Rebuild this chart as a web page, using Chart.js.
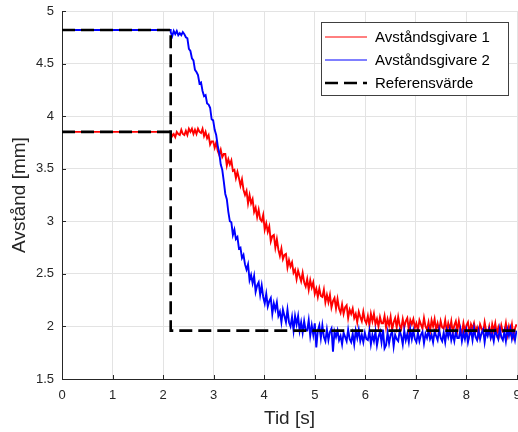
<!DOCTYPE html>
<html lang="sv">
<head>
<meta charset="utf-8">
<title>Avstånd</title>
<script src="https://cdn.jsdelivr.net/npm/chart.js@4.4.1/dist/chart.umd.min.js"></script>
<style>
  html, body { margin: 0; padding: 0; background: #fff; }
  #wrap { width: 518px; height: 432px; }
</style>
</head>
<body>
<div id="wrap"><canvas id="avstandChart" width="518" height="432"></canvas></div>
<script>
// Tid före steget och nivåerna där (mm)
const foreTid = [0, 2.15];
const givare1Fore = [3.85, 3.85];
const givare2Fore = [4.82, 4.82];

// Mätningar efter steget: starttid och samplingsintervall (s)
const matStart = 2.15;
const matSteg = 0.03;

// Avståndsgivare 1 (mm), en rad = 0.3 s
const givare1 = [
  3.85, 3.81, 3.83, 3.80, 3.85, 3.83, 3.82, 3.87, 3.83, 3.82,
  3.86, 3.82, 3.88, 3.85, 3.88, 3.83, 3.87, 3.83, 3.88, 3.85,
  3.84, 3.88, 3.81, 3.85, 3.79, 3.82, 3.73, 3.76, 3.76, 3.70,
  3.75, 3.67, 3.63, 3.68, 3.61, 3.64, 3.64, 3.53, 3.59, 3.54,
  3.58, 3.48, 3.49, 3.41, 3.47, 3.41, 3.34, 3.40, 3.30, 3.25,
  3.29, 3.17, 3.25, 3.17, 3.21, 3.09, 3.13, 3.04, 3.11, 3.02,
  3.00, 3.06, 2.92, 2.98, 2.90, 2.95, 2.81, 2.86, 2.87, 2.75,
  2.83, 2.73, 2.67, 2.74, 2.64, 2.68, 2.69, 2.56, 2.63, 2.57,
  2.61, 2.51, 2.54, 2.45, 2.53, 2.48, 2.43, 2.51, 2.42, 2.38,
  2.45, 2.35, 2.44, 2.37, 2.42, 2.31, 2.36, 2.28, 2.36, 2.29,
  2.28, 2.35, 2.23, 2.30, 2.23, 2.30, 2.18, 2.24, 2.27, 2.17,
  2.26, 2.17, 2.13, 2.21, 2.12, 2.18, 2.20, 2.08, 2.16, 2.12,
  2.17, 2.08, 2.12, 2.04, 2.14, 2.09, 2.05, 2.14, 2.06, 2.03,
  2.10, 2.01, 2.12, 2.05, 2.12, 2.02, 2.07, 2.00, 2.09, 2.03,
  2.03, 2.10, 1.99, 2.07, 2.01, 2.09, 1.97, 2.04, 2.08, 1.99,
  2.09, 2.01, 1.98, 2.07, 1.99, 2.05, 2.08, 1.97, 2.06, 2.02,
  2.07, 1.99, 2.03, 1.96, 2.06, 2.02, 1.98, 2.08, 2.00, 1.97,
  2.04, 1.95, 2.06, 2.00, 2.07, 1.97, 2.03, 1.96, 2.05, 1.99,
  1.98, 2.06, 1.95, 2.03, 1.97, 2.05, 1.94, 2.01, 2.05, 1.96,
  2.05, 1.97, 1.94, 2.03, 1.95, 2.01, 2.04, 1.93, 2.02, 1.98,
  2.03, 1.95, 1.99, 1.92, 2.02, 1.98, 1.94, 2.04, 1.96, 1.93,
  2.00, 1.91, 2.02, 1.96, 2.03, 1.93, 1.99, 1.92, 2.01, 1.95,
  1.95, 2.03, 1.92, 2.00, 1.94, 2.02, 1.91, 1.98, 2.02
];

// Avståndsgivare 2 (mm)
const givare2 = [
  4.80, 4.76, 4.81, 4.78, 4.81, 4.77, 4.79, 4.77, 4.80, 4.78,
  4.75, 4.74, 4.64, 4.62, 4.55, 4.53, 4.44, 4.42, 4.39, 4.31,
  4.32, 4.24, 4.19, 4.20, 4.12, 4.11, 4.08, 3.97, 3.96, 3.87,
  3.82, 3.72, 3.65, 3.54, 3.49, 3.38, 3.26, 3.21, 3.09, 3.00,
  2.99, 2.87, 2.92, 2.83, 2.85, 2.74, 2.75, 2.65, 2.68, 2.59,
  2.54, 2.59, 2.44, 2.49, 2.41, 2.48, 2.33, 2.39, 2.42, 2.30,
  2.39, 2.28, 2.22, 2.31, 2.19, 2.24, 2.27, 2.12, 2.22, 2.16,
  2.23, 2.10, 2.14, 2.04, 2.16, 2.10, 2.04, 2.16, 2.04, 2.00,
  2.09, 1.96, 2.10, 2.02, 2.10, 1.96, 2.04, 1.94, 2.05, 1.96,
  1.96, 2.06, 1.91, 2.01, 1.92, 2.03, 1.80, 1.96, 2.01, 1.89,
  2.01, 1.90, 1.86, 1.97, 1.87, 1.95, 1.98, 1.76, 1.95, 1.90,
  1.96, 1.87, 1.91, 1.83, 1.94, 1.90, 1.86, 1.97, 1.88, 1.85,
  1.93, 1.83, 1.96, 1.89, 1.97, 1.86, 1.92, 1.85, 1.94, 1.88,
  1.87, 1.96, 1.83, 1.92, 1.86, 1.95, 1.82, 1.90, 1.95, 1.85,
  1.97, 1.79, 1.82, 1.94, 1.84, 1.92, 1.95, 1.81, 1.92, 1.88,
  1.86, 1.96, 1.91, 1.83, 1.96, 1.87, 1.93, 1.85, 1.97, 1.88,
  1.96, 1.88, 1.85, 1.94, 1.86, 1.92, 1.95, 1.84, 1.93, 1.89,
  1.96, 1.88, 1.92, 1.85, 1.95, 1.91, 1.87, 1.97, 1.89, 1.86,
  1.94, 1.85, 1.96, 1.90, 1.97, 1.87, 1.93, 1.86, 1.95, 1.89,
  1.89, 1.97, 1.86, 1.94, 1.88, 1.96, 1.85, 1.92, 1.96, 1.87,
  1.98, 1.90, 1.87, 1.96, 1.88, 1.94, 1.97, 1.85, 1.95, 1.91,
  1.97, 1.89, 1.93, 1.86, 1.96, 1.92, 1.88, 1.98, 1.90, 1.87,
  1.95, 1.86, 1.97, 1.91, 1.98, 1.88, 1.94, 1.87, 1.96
];

// Referensvärde: steg från 4.82 (och 3.85) ner till 1.96 vid t = 2.15 s
const refTid = [0, 2.15, 2.15, 9];
const refVarde = [4.82, 4.82, 1.96, 1.96];
const ref1Tid = [0, 2.15];
const ref1Varde = [3.85, 3.85];

// Axlarnas skalstreck
const xTickVarden = [0, 1, 2, 3, 4, 5, 6, 7, 8, 9];
const yTickVarden = [1.5, 2, 2.5, 3, 3.5, 4, 4.5, 5];

const TEXTFARG = '#262626';
const FONT = "'Liberation Sans', Arial, sans-serif";

// Bygger {x, y}-punkter av en tidslista och en värdelista
function punkter(tider, varden) {
  return varden.map((v, i) => ({ x: tider[i], y: v }));
}

// Bygger punkter för de samplade mätningarna, med förloppet före steget först
function matPunkter(foreVarden, varden) {
  const fore = punkter(foreTid, foreVarden);
  const efter = varden.map((v, i) => ({
    x: Math.round((matStart + i * matSteg) * 1000) / 1000,
    y: v,
  }));
  return fore.concat(efter);
}

// Plugin: inåtriktade skalstreck och en legend med ram (som i MATLAB)
const matlabDetaljer = {
  id: 'matlabDetaljer',
  afterDraw(chart) {
    const ctx = chart.ctx;
    const { left, bottom } = chart.chartArea;
    const xs = chart.scales.x;
    const ys = chart.scales.y;
    ctx.save();
    ctx.strokeStyle = TEXTFARG;
    ctx.lineWidth = 1;
    xTickVarden.forEach((v) => {
      const px = Math.round(xs.getPixelForValue(v)) + 0.5;
      ctx.beginPath();
      ctx.moveTo(px, bottom);
      ctx.lineTo(px, bottom - 4);
      ctx.stroke();
    });
    yTickVarden.forEach((v) => {
      const py = Math.round(ys.getPixelForValue(v)) + 0.5;
      ctx.beginPath();
      ctx.moveTo(left, py);
      ctx.lineTo(left + 4, py);
      ctx.stroke();
    });

    // Legend
    const box = { x: 321.5, y: 22.5, w: 187, h: 73 };
    ctx.fillStyle = '#ffffff';
    ctx.fillRect(box.x, box.y, box.w, box.h);
    ctx.strokeStyle = '#404040';
    ctx.strokeRect(box.x, box.y, box.w, box.h);

    const poster = chart.data.datasets.filter((d) => d.iLegend);
    poster.sort((a, b) => a.legendOrdning - b.legendOrdning);
    ctx.font = '15px ' + FONT;
    ctx.textBaseline = 'middle';
    ctx.textAlign = 'left';
    poster.forEach((d, i) => {
      const y = 37 + i * 23;
      ctx.beginPath();
      ctx.strokeStyle = d.borderColor;
      ctx.lineWidth = d.legendBredd || d.borderWidth;
      ctx.setLineDash(d.borderDash || []);
      ctx.moveTo(325, y);
      ctx.lineTo(367, y);
      ctx.stroke();
      ctx.setLineDash([]);
      ctx.fillStyle = '#000000';
      ctx.fillText(d.label, 375, y + 1);
    });
    ctx.restore();
  },
};

const ctx = document.getElementById('avstandChart').getContext('2d');
new Chart(ctx, {
  type: 'line',
  data: {
    datasets: [
      {
        label: 'Referensvärde',
        data: punkter(refTid, refVarde),
        borderColor: '#000000',
        borderWidth: 2.6,
        borderDash: [13, 6],
        order: 0,
        iLegend: true,
        legendOrdning: 3,
      },
      {
        label: 'Referensvärde 1',
        data: punkter(ref1Tid, ref1Varde),
        borderColor: '#000000',
        borderWidth: 2.6,
        borderDash: [13, 6],
        order: 1,
        iLegend: false,
      },
      {
        label: 'Avståndsgivare 2',
        data: matPunkter(givare2Fore, givare2),
        borderColor: '#0000ff',
        borderWidth: 1.9,
        legendBredd: 1,
        order: 2,
        iLegend: true,
        legendOrdning: 2,
      },
      {
        label: 'Avståndsgivare 1',
        data: matPunkter(givare1Fore, givare1),
        borderColor: '#ff0000',
        borderWidth: 1.9,
        legendBredd: 1,
        order: 3,
        iLegend: true,
        legendOrdning: 1,
      },
    ],
  },
  options: {
    responsive: false,
    animation: false,
    layout: { padding: { top: 11, right: 1, left: 0, bottom: 0 } },
    elements: {
      point: { radius: 0 },
      line: { tension: 0, fill: false, borderCapStyle: 'butt' },
    },
    plugins: {
      legend: { display: false },
      tooltip: { enabled: false },
    },
    scales: {
      x: {
        type: 'linear',
        min: 0,
        max: 9,
        afterBuildTicks: (scale) => {
          scale.ticks = xTickVarden.map((v) => ({ value: v }));
        },
        afterFit: (scale) => {
          scale.height = 53;
          scale.paddingLeft = 0;
          scale.paddingRight = 0;
        },
        grid: { color: '#e3e3e3', drawTicks: false },
        border: { color: TEXTFARG, width: 1 },
        ticks: {
          padding: 9,
          color: TEXTFARG,
          font: { family: FONT, size: 13 },
          maxRotation: 0,
          callback: (v) => String(v),
        },
        title: {
          display: true,
          text: 'Tid [s]',
          color: TEXTFARG,
          font: { family: FONT, size: 19 },
          padding: { top: 0, bottom: 2 },
        },
      },
      y: {
        type: 'linear',
        min: 1.5,
        max: 5,
        afterBuildTicks: (scale) => {
          scale.ticks = yTickVarden.map((v) => ({ value: v }));
        },
        afterFit: (scale) => {
          scale.width = 62;
          scale.paddingTop = 0;
          scale.paddingBottom = 0;
        },
        grid: { color: '#e3e3e3', drawTicks: false },
        border: { color: TEXTFARG, width: 1 },
        ticks: {
          padding: 8,
          color: TEXTFARG,
          font: { family: FONT, size: 13 },
          callback: (v) => String(v),
        },
        title: {
          display: true,
          text: 'Avstånd [mm]',
          color: TEXTFARG,
          font: { family: FONT, size: 19 },
          padding: { top: 8, bottom: 0 },
        },
      },
    },
  },
  plugins: [matlabDetaljer],
});
</script>
</body>
</html>
